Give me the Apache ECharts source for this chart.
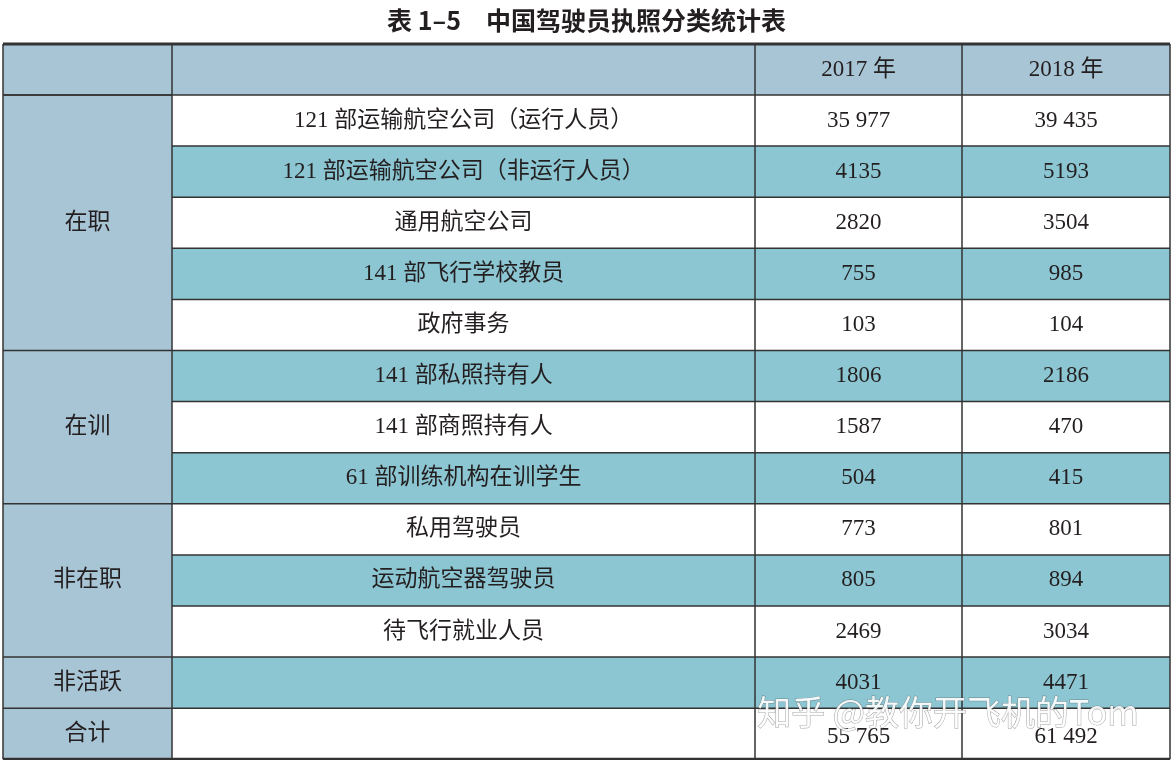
<!DOCTYPE html>
<html><head><meta charset="utf-8">
<script src="https://cdn.jsdelivr.net/npm/echarts@6/dist/echarts.min.js"></script>
<style>html,body{margin:0;padding:0;background:#fff}#main{width:1173px;height:760px}</style>
</head><body><div id="main"></div>
<script>
var title = '表 1–5　中国驾驶员执照分类统计表';
var years = ['2017 年', '2018 年'];
var groups = [['在职', 0, 5], ['在训', 5, 3], ['非在职', 8, 3], ['非活跃', 11, 1], ['合计', 12, 1]];
var items = ['121 部运输航空公司（运行人员）', '121 部运输航空公司（非运行人员）', '通用航空公司', '141 部飞行学校教员', '政府事务',
	'141 部私照持有人', '141 部商照持有人', '61 部训练机构在训学生', '私用驾驶员', '运动航空器驾驶员', '待飞行就业人员', '', ''];
var v2017 = ['35 977', '4135', '2820', '755', '103', '1806', '1587', '504', '773', '805', '2469', '4031', '55 765'];
var v2018 = ['39 435', '5193', '3504', '985', '104', '2186', '470', '415', '801', '894', '3034', '4471', '61 492'];

var Chart = echarts.init(document.getElementById('main'));
var colX = [3, 172, 755, 962, 1170];
var top0 = 44, headH = 51, rowH = 51.1;
var blue = '#a8c5d6', teal = '#8cc6d2', line = '#333';
var serif = '"Liberation Serif","Noto Sans CJK SC",serif';
var els = [];

function rect(x, y, w, h, c) {
	els.push({ type: 'rect', shape: { x: x, y: y, width: w, height: h }, style: { fill: c }, silent: true });
}
function txt(s, x, y, dy) {
	els.push({ type: 'text', x: x, y: y + (dy || 0), style: { text: s, font: '23px ' + serif, fill: '#231f20', textAlign: 'center', textVerticalAlign: 'middle' } });
}
function seg(x1, y1, x2, y2, w) {
	els.push({ type: 'line', shape: { x1: x1, y1: y1, x2: x2, y2: y2 }, style: { stroke: line, lineWidth: w || 1.5 } });
}

// header
rect(colX[0], top0, colX[4] - colX[0], headH, blue);
txt(years[0], (colX[2] + colX[3]) / 2, top0 + headH / 2);
txt(years[1], (colX[3] + colX[4]) / 2, top0 + headH / 2);

var body0 = top0 + headH;
for (var i = 0; i < items.length; i++) {
	var y = body0 + i * rowH;
	var c = (i % 2 == 1) ? teal : '#fff';
	rect(colX[1], y, colX[4] - colX[1], rowH, c);
	txt(items[i], (colX[1] + colX[2]) / 2, y + rowH / 2);
	var dy = i == items.length - 1 ? 3 : 0;
	txt(v2017[i], (colX[2] + colX[3]) / 2, y + rowH / 2, dy);
	txt(v2018[i], (colX[3] + colX[4]) / 2, y + rowH / 2, dy);
	if (i > 0) seg(colX[1], y, colX[4], y);
}
groups.forEach(function (g) {
	var y = body0 + g[1] * rowH, h = g[2] * rowH;
	rect(colX[0], y, colX[1] - colX[0], h, blue);
	txt(g[0], (colX[0] + colX[1]) / 2, y + h / 2);
	seg(colX[0], y, colX[1], y);
});
seg(colX[0], body0, colX[4], body0);
var bottom = body0 + items.length * rowH;
colX.forEach(function (x) {
	seg(x, top0, x, bottom);
});
seg(colX[0], top0, colX[4], top0, 3);
seg(colX[0], bottom, colX[4], bottom, 3);

els.push({ type: 'text', x: 1173 / 2, y: 20, style: { text: title, font: 'bold 25px "Noto Sans CJK SC",sans-serif', fill: '#231f20', textAlign: 'center', textVerticalAlign: 'middle' } });
els.push({ type: 'text', x: 948, y: 712, style: { text: '知乎 @教你开飞机的Tom', font: '34px "Noto Sans CJK SC",sans-serif', fill: 'rgba(255,255,255,0.9)', stroke: 'rgba(90,90,90,0.55)', lineWidth: 1, textAlign: 'center', textVerticalAlign: 'middle' } });

Chart.setOption({ animation: false, graphic: { elements: els } });
</script></body></html>
